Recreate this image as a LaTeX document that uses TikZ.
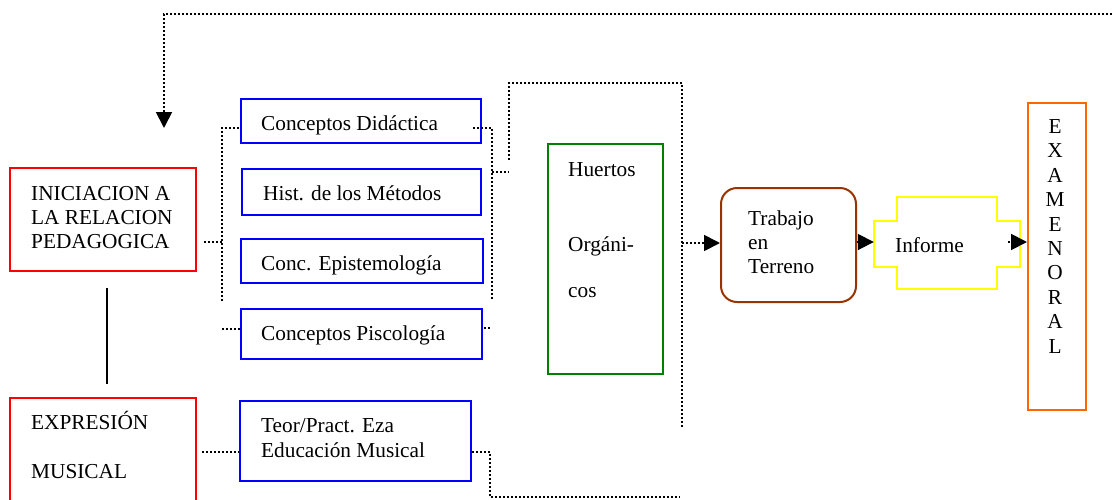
\documentclass[tikz,border=0pt]{standalone}
\usepackage{fontspec}
\setmainfont{Liberation Serif}
\usetikzlibrary{arrows.meta}
\definecolor{boxblue}{RGB}{0,0,255}
\definecolor{boxred}{RGB}{255,0,0}
\definecolor{boxgreen}{RGB}{0,128,0}
\definecolor{boxbrown}{RGB}{153,51,0}
\definecolor{boxyellow}{RGB}{255,255,0}
\definecolor{boxorange}{RGB}{255,102,0}
\tikzset{
  redbox/.style={draw=boxred, line width=2pt, inner sep=0pt},
  bluebox/.style={draw=boxblue, line width=2pt, inner sep=0pt},
  txt/.style={font=\fontsize{21.3}{24.5}\selectfont, inner sep=0pt, align=left, anchor=base west},
  dotline/.style={line width=1.8pt, dash pattern=on 1.8pt off 2.2pt},
  tip/.style={-{Triangle[length=16pt,width=16pt]}},
  solidline/.style={line width=2pt}
}
\begin{document}
\begin{tikzpicture}[x=1pt, y=-1pt]
\useasboundingbox (0,0) rectangle (1112,499);

% --- red course boxes on the left (text anchored at the last baseline)
\node[redbox, minimum width=186pt, minimum height=103pt] (ini) at (103,219.5) {};
\node[redbox, minimum width=186pt, minimum height=122pt] (exp) at (103,459) {};
\node[txt, font=\fontsize{21.3}{24}\selectfont] (iniT) at (31,248) {INICIACION A\\LA RELACION\\PEDAGOGICA};
\node[txt] (expT) at (31,478) {EXPRESIÓN\\[24.5pt]MUSICAL};

% --- blue subject boxes
\node[bluebox, minimum width=240pt, minimum height=44pt] (did) at (361,121) {};
\node[bluebox, minimum width=239pt, minimum height=46pt] (his) at (361.5,192) {};
\node[bluebox, minimum width=242pt, minimum height=44pt] (epi) at (362,261) {};
\node[bluebox, minimum width=241pt, minimum height=50pt] (psi) at (361.5,334) {};
\node[bluebox, minimum width=231pt, minimum height=80pt] (teo) at (355.5,441) {};
\node[txt] (didT) at (261,130) {Conceptos Didáctica};
\node[txt] (hisT) at (263,200) {Hist. de los Métodos};
\node[txt] (epiT) at (261,270) {Conc. Epistemología};
\node[txt] (psiT) at (261,340) {Conceptos Piscología};
\node[txt, font=\fontsize{21.3}{25}\selectfont] (teoT) at (261,457) {Teor/Pract. Eza\\Educación Musical};

% --- Huertos Orgánicos
\node[draw=boxgreen, line width=2pt, inner sep=0pt, minimum width=115pt, minimum height=230pt] (hue) at (605.5,259) {};
\node[txt, font=\fontsize{21.3}{24}\selectfont] (hueT) at (568,297) {Huertos\\[51pt]Orgáni-\\[22pt]cos};

% --- Trabajo en Terreno
\node[draw=boxbrown, line width=2pt, inner sep=0pt, rounded corners=16pt, minimum width=135pt, minimum height=114pt] (tra) at (788.5,245) {};
\node[txt, font=\fontsize{21.3}{24}\selectfont] (traT) at (748,273) {Trabajo\\en\\Terreno};

% --- Informe (stepped outline)
\node[minimum width=146pt, minimum height=92pt, inner sep=0pt] (inf) at (947,243) {};
\draw[boxyellow, line width=2pt]
  (897,197) -- (997,197) -- (997,221) -- (1020,221) -- (1020,267) -- (997,267)
  -- (997,289) -- (897,289) -- (897,267) -- (874,267) -- (874,221) -- (897,221) -- cycle;
\node[txt] (infT) at (895,252) {Informe};

% --- Examen oral
\node[draw=boxorange, line width=2pt, inner sep=0pt, minimum width=58pt, minimum height=307pt] (exa) at (1057,256.5) {};
\node[txt, align=center, anchor=base, font=\fontsize{21.3}{24.4}\selectfont] (exaT) at (1055,353) {E\\X\\A\\M\\E\\N\\O\\R\\A\\L};

% --- connector geometry
\coordinate (fbR) at (1112,14);
\coordinate (fbT) at (164,128);
\coordinate (bl1) at (222,128);
\coordinate (bl2) at (222,301);
\coordinate (blm) at (222,242);
\coordinate (pl)  at (222,329);
\coordinate (br1) at (492,128);
\coordinate (br2) at (492,300);
\coordinate (brm) at (492,172);
\coordinate (pr)  at (490,328);
\coordinate (hb0) at (509,160);
\coordinate (hb1) at (509,83);
\coordinate (hb2) at (682,83);
\coordinate (hb3) at (682,428);
\coordinate (ha)  at (682,243);
\coordinate (ia)  at (1008,242);
\coordinate (tm)  at (202,452);
\coordinate (tr0) at (490,452);
\coordinate (tr1) at (490,497);
\coordinate (tr2) at (680,497);

% feedback loop along the top
\draw[dotline, tip] (fbR) -| (fbT);

% left bracket grouping the subjects
\draw[dotline] (ini.east |- blm) ++(7,0) -- (blm);
\draw[dotline] (bl2) -- (bl1) -- (did.west |- bl1);
\draw[dotline] (pl) -- (psi.west |- pl);

% right bracket
\draw[dotline] (did.east |- br1) ++(-9,0) -- (br1) -- (br2);
\draw[dotline] (psi.east |- pr) ++(1,0) -- (pr);
\draw[dotline] (brm) -- (brm -| hb0);
\draw[dotline] (hb0) -- (hb1) -- (hb2) -- (hb3);

% chain to the exam
\draw[dotline, tip] (ha) -- (ha -| tra.west);
\draw[dotline, tip] (tra.east |- ia) -- (ia -| inf.west);
\draw[dotline, tip] (ia) -- (ia -| exa.west);

% link between the two courses
\draw[solidline] (ini.south) ++(4,16) -- ++(0,96);

% music branch
\draw[dotline] (tm) -- (tm -| teo.west);
\draw[dotline] (teo.east |- tr0) -- (tr0) -- (tr1) -- (tr2);
\end{tikzpicture}
\end{document}
